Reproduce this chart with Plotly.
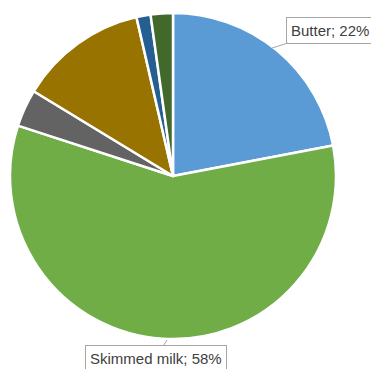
import plotly.graph_objects as go

# page body has an 8px default margin; figure is sized to fit the window
OFF = 8
W, H = 379 - OFF, 369 - OFF
labels = ["Butter", "Skimmed milk", "Other A", "Other B", "Other C", "Other D"]
values = [22, 58, 3.7, 12.7, 1.4, 2.2]
colors = ["#5B9BD5", "#70AD47", "#636363", "#997300", "#255E91", "#43682B"]

cx, cy, r = 173 - OFF, 176 - OFF, 163

fig = go.Figure(go.Pie(
    labels=labels, values=values, sort=False, direction="clockwise", rotation=0,
    marker=dict(colors=colors, line=dict(color="white", width=2.5)),
    textinfo="none", hoverinfo="label+percent", showlegend=False,
    domain=dict(x=[(cx - r) / W, (cx + r) / W], y=[1 - (cy + r) / H, 1 - (cy - r) / H]),
))

def px(x, y):
    # window pixel -> paper coords
    return (x - OFF) / W, 1 - (y - OFF) / H

ann_style = dict(xref="paper", yref="paper", showarrow=True, arrowhead=0, arrowwidth=1,
                 arrowcolor="#A6A6A6", bordercolor="#A6A6A6", borderwidth=1, borderpad=4,
                 bgcolor="white", font=dict(family="Liberation Sans, Arial", size=15, color="#404040"))

bx, by = px(272, 48)
fig.add_annotation(x=bx, y=by, ax=330 - 272, ay=30 - 48,
                   text=f"{labels[0]}; {round(values[0])}%", **ann_style)
sx, sy = px(167, 340)
fig.add_annotation(x=sx, y=sy, ax=156 - 167, ay=358 - 340,
                   text=f"{labels[1]}; {round(values[1])}%", **ann_style)

fig.update_layout(width=W, height=H, margin=dict(l=0, r=0, t=0, b=0),
                  paper_bgcolor="white", plot_bgcolor="white")
fig.write_html("out.html")
